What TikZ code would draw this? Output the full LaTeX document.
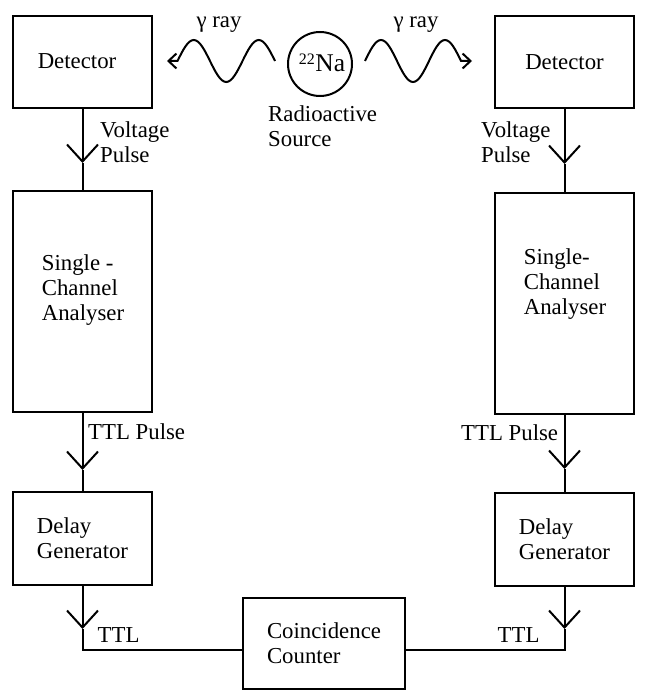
\documentclass[tikz,border=0pt]{standalone}
\usepackage{fontspec}
\setmainfont{Liberation Serif}
\usetikzlibrary{arrows.meta}
\tikzset{
  box/.style={draw, line width=2pt, minimum width=139pt, align=left, inner sep=0pt},
  flow/.style={line width=2pt, -{Straight Barb[length=17pt,width=31pt]}},
  ray/.style={line width=2pt, -{Straight Barb[length=8pt,width=15pt]}},
  lbl/.style={inner sep=0pt, align=left},
}

\begin{document}
\begin{tikzpicture}[x=1pt, y=-1pt, font=\fontsize{22.8}{25}\selectfont]
\useasboundingbox (0,0) rectangle (655,695);

% boxes
\node[box, minimum height=92pt] (detL) at (82.5,62) {};
\node[lbl] at (77,61) {Detector};
\node[box, minimum height=92pt] (detR) at (564.5,62) {Detector};
\node[box, minimum height=221pt] (scaL) at (82.5,301.5) {};
\node[box, minimum height=221pt] (scaR) at (564.5,303) {};
\node[lbl] at (83,290) {Single -\\Channel\\Analyser};
\node[lbl] at (565,284) {Single-\\Channel\\Analyser};
\node[box, minimum height=93pt] (dlyL) at (82.5,538.5) {Delay\\Generator};
\node[box, minimum height=93pt] (dlyR) at (564.5,539) {Delay\\Generator};
\node[box, minimum width=162pt, minimum height=91pt] (coinc) at (324,643) {Coincidence\\Counter};

% source
\node[draw, circle, line width=2pt, minimum size=64pt, inner sep=0pt] (src) at (320,64) {};
\node[lbl] at (322,63) {\textsuperscript{22}\fontsize{25.5}{25}\selectfont Na};
\node[lbl, anchor=west] (srcTxt) at (268,126) {Radioactive\\Source};

% gamma rays
\draw[ray] (275,61) sin (258.75,40) cos (242.5,61) sin (226.25,82) cos (210,61)
  sin (193.75,40) cos (177.5,61) -- (167,61);
\draw[ray] (365,61) sin (381,40) cos (397,61) sin (413,82) cos (429,61)
  sin (445,40) cos (461,61) -- (472,61);
\node[lbl] (rayL) at (219,25) {γ ray};
\node[lbl] (rayR) at (416,25) {γ ray};

% signal path
\coordinate (vL) at (82.5,163);
\coordinate (vR) at (564.5,164);
\coordinate (pL) at (82.5,470);
\coordinate (pR) at (564.5,469);
\coordinate (tL) at (82.5,629);
\coordinate (tR) at (564.5,629);
\coordinate (cL) at (82.5,650);
\coordinate (cR) at (564.5,650);

\draw[flow] (detL) -- (vL);
\draw[line width=2pt] (vL) -- (scaL);
\draw[flow] (detR) -- (vR);
\draw[line width=2pt] (vR) -- (scaR);
\draw[flow] (scaL) -- (pL);
\draw[line width=2pt] (pL) -- (dlyL);
\draw[flow] (scaR) -- (pR);
\draw[line width=2pt] (pR) -- (dlyR);
\draw[flow] (dlyL) -- (tL);
\draw[line width=2pt] (tL) -- (cL) -- (coinc.west |- cL);
\draw[flow] (dlyR) -- (tR);
\draw[line width=2pt] (tR) -- (cR) -- (coinc.east |- cR);

% labels
\node[lbl, anchor=west] at (100,142) {Voltage\\Pulse};
\node[lbl, anchor=west] at (481,142) {Voltage\\Pulse};
\node[lbl, anchor=west] at (88,432) {TTL Pulse};
\node[lbl, anchor=west] at (461,433) {TTL Pulse};
\node[lbl, anchor=west] at (97.5,635) {TTL};
\node[lbl, anchor=west] at (497.5,635) {TTL};
\end{tikzpicture}
\end{document}
